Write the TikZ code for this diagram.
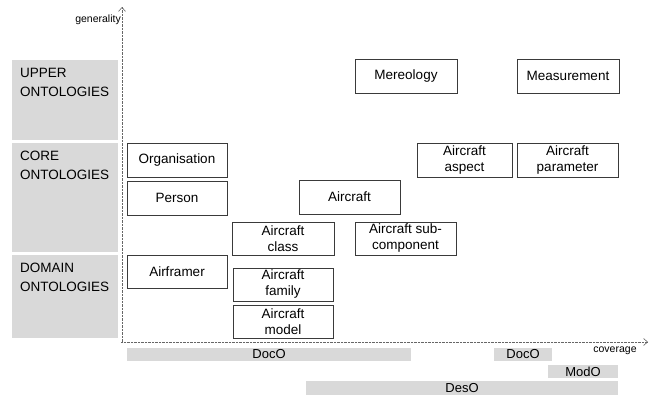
\documentclass[tikz,border=0pt]{standalone}
\usepackage{fontspec}
\setmainfont{Liberation Sans}
\usetikzlibrary{arrows.meta}
\definecolor{lg}{HTML}{D9D9D9}
\definecolor{bd}{HTML}{3A3A3A}
\begin{document}
\begin{tikzpicture}[x=1pt,y=-1pt,
  box/.style={draw=bd, line width=0.8pt, fill=white, inner sep=0pt, align=center,
    font=\fontsize{13.5}{16}\selectfont},
  lay/.style={fill=lg, draw=none, inner sep=0pt, anchor=north west},
  laytext/.style={anchor=north west, inner sep=0pt, align=left,
    font=\fontsize{13.5}{19}\selectfont},
  bar/.style={fill=lg, draw=none, inner sep=0pt, font=\fontsize{13}{15}\selectfont},
  axis/.style={draw=black!60, line width=0.6pt, dash pattern=on 0.7pt off 0.7pt},
  axtip/.style={-{Straight Barb[length=4pt,width=7pt,line width=0.6pt]}},
  axlabel/.style={inner sep=0pt, font=\fontsize{10.5}{12}\selectfont}
]
\useasboundingbox (0,0) rectangle (656,399);

% layer boxes
\node[lay, minimum width=106pt, minimum height=80pt] (upper) at (12,60) {};
\node[lay, minimum width=106pt, minimum height=109pt] (core) at (12,143) {};
\node[lay, minimum width=106pt, minimum height=83pt] (domain) at (12,255) {};
\node[laytext] (uppert) at ([xshift=8pt,yshift=-8pt]upper.north west) {UPPER\\ONTOLOGIES};
\node[laytext] (coret) at ([xshift=8pt,yshift=-8pt]core.north west) {CORE\\ONTOLOGIES};
\node[laytext] (domaint) at ([xshift=8pt,yshift=-8pt]domain.north west) {DOMAIN\\ONTOLOGIES};

% axes
\coordinate (o) at (122,342);
\coordinate (ytop) at (122,7);
\coordinate (xend) at (648,342);
\draw[axis] (o) -- (ytop);
\draw[axis] (121,342) -- (xend);
\draw[axtip, draw=black!60, line width=0.6pt] ([yshift=-1pt]ytop) -- (ytop);
\draw[axtip, draw=black!60, line width=0.6pt] ([xshift=-1pt]xend) -- (xend);
\node[axlabel, anchor=east] (gen) at (121,20) {generality};
\node[axlabel] (cov) at (615,351) {coverage};

% ontology boxes
\node[box, minimum width=102pt, minimum height=34pt] (mereo) at (406,76) {Mereology};
\node[box, minimum width=102pt, minimum height=34pt] (meas) at (568,76) {Measurement};
\node[box, minimum width=100pt, minimum height=34pt] (org) at (177,160) {Organisation};
\node[box, minimum width=100pt, minimum height=34pt] (person) at (177,198) {Person};
\node[box, minimum width=95pt, minimum height=34pt] (aspect) at (464.5,160) {Aircraft\\aspect};
\node[box, minimum width=101pt, minimum height=34pt] (param) at (567.5,160) {Aircraft\\parameter};
\node[box, minimum width=101pt, minimum height=34pt] (aircraft) at (349.5,197) {Aircraft};
\node[box, minimum width=102pt, minimum height=33pt] (class) at (283,238.5) {Aircraft\\class};
\node[box, minimum width=101pt, minimum height=33pt] (subc) at (405.5,238.5) {Aircraft sub-\\component};
\node[box, minimum width=100pt, minimum height=33pt] (airframer) at (177,271.5) {Airframer};
\node[box, minimum width=100pt, minimum height=33pt] (family) at (283,284.5) {Aircraft\\family};
\node[box, minimum width=100pt, minimum height=33pt] (model) at (283,321.5) {Aircraft\\model};

% coverage bars
\node[bar, minimum width=284pt, minimum height=13pt] (doco1) at (269,354.5) {DocO};
\node[bar, minimum width=58pt, minimum height=13pt] (doco2) at (523,354.5) {DocO};
\node[bar, minimum width=70pt, minimum height=13pt] (modo) at (583,371.5) {ModO};
\node[bar, minimum width=312pt, minimum height=14pt] (deso) at (462,388) {DesO};
\end{tikzpicture}
\end{document}
